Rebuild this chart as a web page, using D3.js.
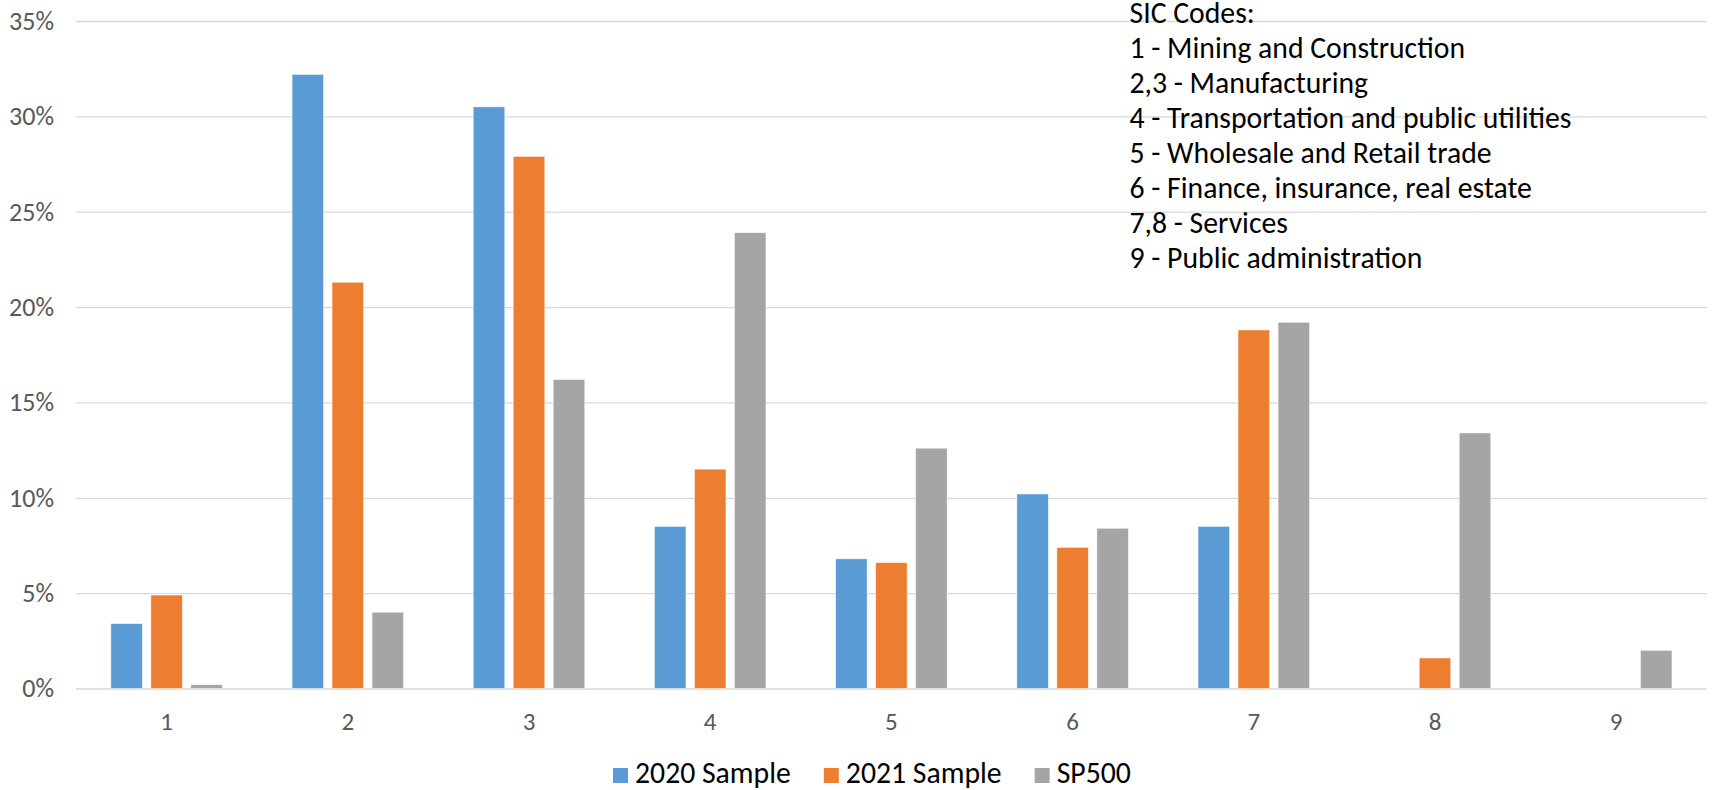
<!DOCTYPE html>
<html>
<head>
<meta charset="utf-8">
<script src="https://cdn.jsdelivr.net/npm/d3@7"></script>
<style>
  html, body { margin: 0; padding: 0; background: #fff; }
  svg { display: block; }
</style>
</head>
<body>
<svg id="chart" width="1716" height="790"></svg>
<script>
// ---- data ----
const categories = ["1", "2", "3", "4", "5", "6", "7", "8", "9"];
const seriesNames = ["2020 Sample", "2021 Sample", "SP500"];
const sample2020 = [0.034, 0.322, 0.305, 0.085, 0.068, 0.102, 0.085, 0, 0];
const sample2021 = [0.049, 0.213, 0.279, 0.115, 0.066, 0.074, 0.188, 0.016, 0];
const sp500 = [0.002, 0.040, 0.162, 0.239, 0.126, 0.084, 0.192, 0.134, 0.020];
const yTicks = [0, 0.05, 0.10, 0.15, 0.20, 0.25, 0.30, 0.35];
const sicLines = [
  "SIC Codes:",
  "1 - Mining and Construction",
  "2,3 - Manufacturing",
  "4 - Transportation and public utilities",
  "5 - Wholesale and Retail trade",
  "6 - Finance, insurance, real estate",
  "7,8 - Services",
  "9 - Public administration"
];
const colors = ["#5B9BD5", "#ED7D31", "#A5A5A5"];

const seriesValues = [sample2020, sample2021, sp500];

// ---- layout ----
const svg = d3.select("#chart");
const plotLeft = 76, plotRight = 1706.8, plotTop = 21, plotBottom = 688.5;

const x0 = d3.scaleBand().domain(categories).range([plotLeft, plotRight]).padding(0);
const bw = x0.bandwidth();
const x1 = d3.scaleBand().domain(seriesNames)
  .range([bw / 2 - 60, bw / 2 + 60]).paddingInner(0.2125).paddingOuter(0.10625);
const y = d3.scaleLinear().domain([0, 0.35]).range([plotBottom, plotTop]);

const axisFont = "Carlito, Calibri, Lato, sans-serif";

// gridlines + y labels
const yAxis = d3.axisLeft(y).tickValues(yTicks)
  .tickFormat(d3.format(".0%"))
  .tickSize(-(plotRight - plotLeft)).tickPadding(22);
const gy = svg.append("g").attr("transform", `translate(${plotLeft},0)`).call(yAxis);
gy.select(".domain").remove();
gy.selectAll(".tick line").attr("stroke", "#D9D9D9").attr("stroke-width", 1.3);
gy.selectAll(".tick text").attr("fill", "#595959")
  .attr("font-size", null)
  .style("font-family", axisFont).style("font-size", "26px");

// x labels
const xAxis = d3.axisBottom(x0).tickSize(0).tickPadding(24);
const gx = svg.append("g").attr("transform", `translate(0,${plotBottom})`).call(xAxis);
gx.select(".domain").remove();
gx.selectAll(".tick text").attr("fill", "#595959")
  .style("font-family", axisFont).style("font-size", "25px");

// bars
const rows = categories.map((c, i) => ({
  cat: c,
  vals: seriesNames.map((s, j) => ({ s, j, v: seriesValues[j][i] }))
}));
const groups = svg.append("g").selectAll("g").data(rows).join("g")
  .attr("transform", d => `translate(${x0(d.cat)},0)`);
groups.selectAll("rect").data(d => d.vals.filter(e => e.v > 0)).join("rect")
  .attr("x", d => x1(d.s))
  .attr("width", x1.bandwidth())
  .attr("y", d => y(d.v))
  .attr("height", d => y(0) - y(d.v))
  .attr("fill", d => colors[d.j])
  .attr("stroke", "#fff").attr("stroke-width", 0.8).attr("stroke-opacity", 0.6);

// SIC text box
const textFont = "Carlito, Calibri, Lato, sans-serif";
const tb = svg.append("g").attr("transform", "translate(1129.5,0)");
const tLines = tb.selectAll("text").data(sicLines).join("text")
  .attr("x", 0)
  .attr("y", (d, i) => 22.5 + i * 35.1)
  .attr("fill", "#000")
  .style("font-family", textFont).style("font-size", "29px")
  .text(d => d);
let maxW = 0;
tLines.each(function () { maxW = Math.max(maxW, this.getComputedTextLength()); });
const fs = 29 * 442 / maxW;
tLines.style("font-size", fs + "px");

// legend
const lg = svg.append("g");
let lx = 613;
seriesNames.forEach((s, j) => {
  lg.append("rect").attr("x", lx).attr("y", 768).attr("width", 15).attr("height", 15)
    .attr("fill", colors[j]);
  const t = lg.append("text").attr("x", lx + 22).attr("y", 783)
    .attr("fill", "#000")
    .style("font-family", textFont).style("font-size", fs + "px")
    .text(s);
  lx += 22 + t.node().getComputedTextLength() + 33;
});
</script>
</body>
</html>
